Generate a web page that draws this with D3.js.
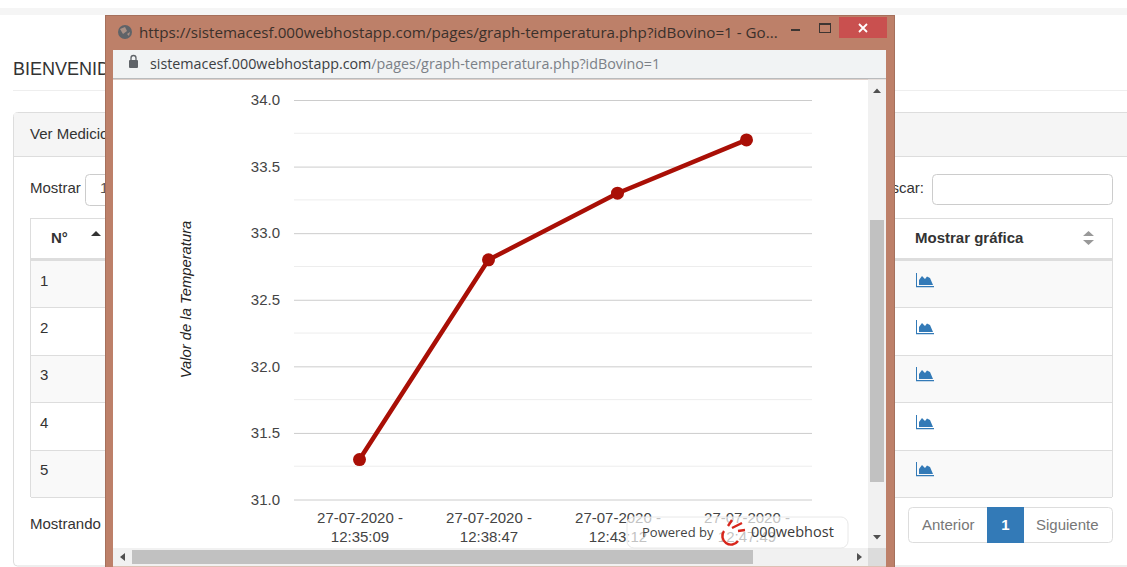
<!DOCTYPE html>
<html>
<head>
<meta charset="utf-8">
<script src="https://cdn.jsdelivr.net/npm/d3@7"></script>
<style>
  html, body { margin: 0; padding: 0; background: #fff; overflow: hidden; }
  svg { display: block; }
  text { font-family: "Liberation Sans", Arial, sans-serif; }
  .win { font-family: "Open Sans", "Noto Sans", sans-serif; }
</style>
</head>
<body>
<svg id="root" width="1127" height="567"></svg>
<script>
const fechas = ['27-07-2020 - 12:35:09', '27-07-2020 - 12:38:47', '27-07-2020 - 12:43:12', '27-07-2020 - 12:47:49'];
const temperaturas = [31.3, 32.8, 33.3, 33.7];
const ticksY = [31, 31.5, 32, 32.5, 33, 33.5, 34];
const ticksMenores = [31.25, 31.75, 32.25, 32.75, 33.25, 33.75];
const filas = ['1', '2', '3', '4', '5'];
const filaTop = [261, 307, 355, 402, 450, 497];

const root = d3.select('#root');

const rect = (x, y, w, h, fill, stroke, rx) => root.append('rect')
    .attr('x', x).attr('y', y).attr('width', w).attr('height', h)
    .attr('fill', fill).attr('stroke', stroke || 'none').attr('rx', rx || 0);
const label = (x, y, s, size, color, extra) => {
    const t = root.append('text').attr('x', x).attr('y', y).text(s)
        .attr('font-size', size).attr('fill', color);
    if (extra) extra(t);
    return t;
};

// pagina de fondo
rect(0, 8, 1127, 7, '#f5f5f5');
label(13, 75, 'BIENVENIDO', 18, '#333');
rect(13, 90, 1114, 1, '#eee');
rect(13.5, 112.5, 1120, 453.5, '#fff', '#ddd', 4);
rect(14, 113, 1120, 43, '#f5f5f5');
rect(14, 156, 1120, 1, '#ddd');
label(30, 139, 'Ver Mediciones', 15, '#333');
label(30, 193, 'Mostrar', 15, '#333');
rect(85.5, 174.5, 60, 31, '#fff', '#ccc', 4);
label(100, 193, '10', 15, '#555');
label(924, 193, 'Buscar:', 15, '#333', t => t.attr('text-anchor', 'end'));
rect(932.5, 174.5, 180, 30, '#fff', '#ccc', 4);

// tabla
rect(30.5, 218.5, 1082, 278, '#fff', '#ddd');
rect(31, 258, 1081, 3, '#ddd');
label(51, 243, 'N°', 15, '#333', t => t.attr('font-weight', 'bold'));
root.append('path').attr('d', 'M91 236 L96 231 L101 236 Z').attr('fill', '#333');
label(915, 243, 'Mostrar gráfica', 15, '#333', t => t.attr('font-weight', 'bold'));
root.append('path').attr('d', 'M1083 236 L1088.5 231 L1094 236 Z M1083 240 L1088.5 245 L1094 240 Z').attr('fill', '#999');
filas.forEach((f, i) => {
    const y0 = filaTop[i], y1 = filaTop[i + 1];
    const ajuste = i % 2;
    if (i % 2 === 0) rect(31, y0, 1081, y1 - y0, '#f9f9f9');
    if (i > 0) rect(31, y0, 1081, 1, '#ddd');
    label(40, y0 + 25 + ajuste, f, 15, '#333');
    root.append('path')
        .attr('transform', `translate(917,${y0 + 12 + ajuste})`)
        .attr('d', 'M0 0 V13 H17 V14.2 H-1 V0 Z M2 12 V7 L5 3 L8 6 L10 3.5 L13 5 L16 12 Z')
        .attr('fill', '#337ab7');
});
rect(31, 497, 1081, 1, '#ddd');
label(30, 529, 'Mostrando', 15, '#333');

// paginacion
rect(908.5, 507.5, 204, 35, '#fff', '#ddd', 4);
rect(987, 507, 37, 36, '#337ab7');
label(922, 530, 'Anterior', 15, '#777');
label(1005.5, 530, '1', 15, '#fff', t => t.attr('text-anchor', 'middle').attr('font-weight', 'bold'));
label(1036, 530, 'Siguiente', 15, '#777');

// ventana emergente
rect(106, 16, 789, 551, '#bd8069');
rect(105.5, 15.5, 789, 560, 'none', '#a5705c');
rect(839, 17, 48, 21, '#c9504f');
root.append('path').attr('d', 'M859 24 L867 32 M867 24 L859 32').attr('stroke', '#fff').attr('stroke-width', 1.8);
rect(791, 29, 9, 2, '#3d3532');
rect(819.5, 23.5, 11, 9, 'none', '#3d3532');
rect(819, 23, 12, 2, '#3d3532');
root.append('circle').attr('cx', 125).attr('cy', 32).attr('r', 7).attr('fill', '#5f6368');
root.append('path').attr('d', 'M120 29 L125 27 L127 31 L123 34 Z M127 34 L130 32 L129 36 Z').attr('fill', '#a99085');
label(139, 38, 'https://sistemacesf.000webhostapp.com/pages/graph-temperatura.php?idBovino=1 - Go...', 15.2, '#3b302b', t => t.attr('class', 'win'));
rect(113, 50, 773, 29, '#f1f3f4');
rect(113, 78, 773, 1.5, '#b9bbbd');
rect(129, 60, 9, 8, '#5f6368', null, 1);
root.append('path').attr('d', 'M131 60 V58 A2.5 2.5 0 0 1 136 58 V60').attr('fill', 'none').attr('stroke', '#5f6368').attr('stroke-width', 1.3);
const url = label(150, 69, 'sistemacesf.000webhostapp.com', 14.3, '#3c4043', t => t.attr('class', 'win'));
url.append('tspan').attr('fill', '#7b8087').text('/pages/graph-temperatura.php?idBovino=1');
rect(113, 79.5, 773, 487, '#fff');

// grafica
const x = d3.scalePoint().domain(fechas).range([295, 811]).padding(0.5);
const y = d3.scaleLinear().domain([31, 34]).range([499.5, 100]);

const chart = root.append('g');
chart.selectAll('line.menor').data(ticksMenores).join('line')
    .attr('class', 'menor')
    .attr('x1', 294).attr('x2', 812)
    .attr('y1', d => y(d)).attr('y2', d => y(d))
    .attr('stroke', '#ededed');

const ejeY = chart.append('g').attr('transform', 'translate(294,0)')
    .call(d3.axisLeft(y).tickValues(ticksY).tickFormat(d3.format('.1f')).tickSize(-518).tickPadding(14));
ejeY.select('.domain').remove();
ejeY.selectAll('line').attr('stroke', '#ccc');
ejeY.selectAll('text').attr('font-size', 15).attr('fill', '#444').attr('font-family', '"Liberation Sans", Arial, sans-serif');

const ejeX = chart.append('g').attr('transform', 'translate(0,499.5)')
    .call(d3.axisBottom(x).tickSize(0).tickPadding(13));
ejeX.select('.domain').remove();
ejeX.selectAll('text')
    .attr('font-size', 15).attr('fill', '#444').attr('font-family', '"Liberation Sans", Arial, sans-serif')
    .each(function (d) {
        const partes = d.split(' - ');
        const t = d3.select(this).text(null);
        t.append('tspan').attr('x', 0).text(partes[0] + ' -');
        t.append('tspan').attr('x', 0).attr('dy', 19).text(partes[1]);
    });

chart.append('text')
    .attr('transform', 'translate(191,299.5) rotate(-90)')
    .attr('text-anchor', 'middle')
    .attr('font-size', 14.8).attr('font-style', 'italic').attr('fill', '#222')
    .text('Valor de la Temperatura');

const linea = d3.line().x((d, i) => x(fechas[i])).y(d => y(d));
chart.append('path').datum(temperaturas)
    .attr('d', linea)
    .attr('fill', 'none').attr('stroke', '#a90f06').attr('stroke-width', 4.5);
chart.selectAll('circle').data(temperaturas).join('circle')
    .attr('cx', (d, i) => x(fechas[i])).attr('cy', d => y(d))
    .attr('r', 6.5).attr('fill', '#a90f06');

// barras de desplazamiento
rect(868, 79.5, 18, 469, '#f1f1f1');
rect(870, 220, 14, 262, '#c1c1c1');
root.append('path').attr('d', 'M873 93 L877 88.5 L881 93 Z M873 535 L881 535 L877 539.5 Z').attr('fill', '#505050');
rect(113, 548, 755, 18, '#f1f1f1');
root.append('path').attr('d', 'M125 553 L120 557 L125 561 Z M857 553 L862 557 L857 561 Z').attr('fill', '#505050');
rect(868, 548, 18, 18, '#dcdcdc');

// aviso del hosting
rect(627, 517, 221, 31, '#fff', '#e8e8e8', 7).attr('fill-opacity', 0.68);
rect(132, 550, 621, 14, '#c1c1c1');
label(642, 537, 'Powered by', 13, '#444', t => t.attr('class', 'win'));
root.append('path')
    .attr('d', 'M724 531 A8 8 0 0 0 738 541 M728 526 L732 520 M732 528 L742 523 M738 531 L745 530')
    .attr('fill', 'none').attr('stroke', '#d8261c').attr('stroke-width', 2.4);
label(751, 537, '000webhost', 14.5, '#3a3a3a', t => t.attr('class', 'win'));
</script>
</body>
</html>
